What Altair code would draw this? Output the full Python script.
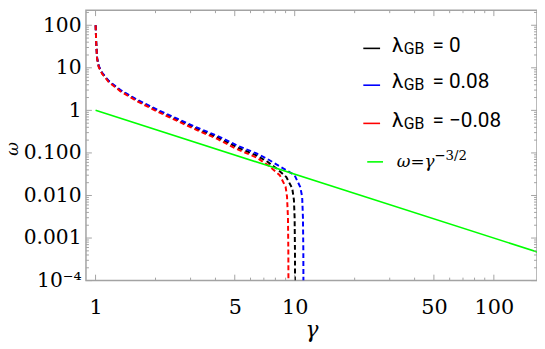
import altair as alt
import pandas as pd

# ---- data ----
gamma_l0 = [1.001, 1.007, 1.018, 1.038, 1.078, 1.164, 1.33, 1.64, 2.06, 2.59, 3.25, 4.09, 5.13, 6.44, 7.3, 8.1, 9.08, 9.72, 9.91, 9.99, 10.03, 10.04]
omega_l0 = [100, 41, 16.7, 10.7, 7.5, 4.8, 2.93, 1.65, 0.97, 0.59, 0.364, 0.232, 0.136, 0.087, 0.062, 0.043, 0.027, 0.0147, 0.0079, 0.003, 0.0005, 0.0001]

gamma_lp = [1.001, 1.007, 1.018, 1.038, 1.078, 1.164, 1.33, 1.64, 2.06, 2.59, 3.25, 4.09, 5.13, 6.44, 7.3, 8.57, 9.98, 10.65, 10.9, 11.0, 11.05, 11.06]
omega_lp = [100, 42, 17.2, 11.0, 7.7, 4.95, 3.03, 1.72, 1.02, 0.63, 0.39, 0.252, 0.15, 0.097, 0.072, 0.046, 0.030, 0.016, 0.0094, 0.003, 0.0005, 0.0001]

gamma_lm = [1.001, 1.007, 1.018, 1.038, 1.078, 1.164, 1.33, 1.64, 2.06, 2.59, 3.25, 4.09, 5.13, 6.44, 7.37, 8.41, 9.0, 9.15, 9.25, 9.29, 9.3]
omega_lm = [100, 40, 16.2, 10.4, 7.3, 4.65, 2.83, 1.58, 0.92, 0.555, 0.34, 0.213, 0.123, 0.078, 0.051, 0.030, 0.016, 0.0094, 0.003, 0.0005, 0.0001]

gamma_power = [1.0, 165.0]
omega_power = [1.0, 0.00047]

series_names = ["l0", "lp", "lm", "power"]
series_colors = ["#000000", "#0000ff", "#ff0000", "#00ff00"]
lambda_labels = ["0", "0.08", "\u22120.08"]

x_major_ticks = [1, 5, 10, 50, 100]
x_minor_ticks = [2, 3, 4, 6, 7, 8, 9, 20, 30, 40, 60, 70, 80, 90]
y_major_ticks = [1e-4, 1e-3, 1e-2, 1e-1, 1, 10, 100]
y_minor_mult = [2, 3, 4, 5, 6, 7, 8, 9]
y_minor_ticks = [m * d for d in [1e-4, 1e-3, 1e-2, 1e-1, 1, 10, 100] for m in y_minor_mult if m * d < 226]

# ---- build tables ----
rows = []
for name, gs, ws in [("l0", gamma_l0, omega_l0), ("lp", gamma_lp, omega_lp),
                     ("lm", gamma_lm, omega_lm), ("power", gamma_power, omega_power)]:
    for i, (g, w) in enumerate(zip(gs, ws)):
        rows.append({"gamma": g, "omega": w, "series": name, "idx": i})
df = pd.DataFrame(rows)

W, H = 457, 274
xscale = alt.Scale(type="log", domain=[0.895, 164.7], nice=False)
yscale = alt.Scale(type="log", domain=[1e-4, 226], nice=False)
color_scale = alt.Scale(domain=series_names, range=series_colors)
SERIF = "DejaVu Serif"
SANS = "Roboto"
FRAME = "#a3a3a3"

xaxis = alt.Axis(values=x_major_ticks, format="d", grid=False, ticks=False,
                 domain=False, labelFont=SERIF, labelFontSize=21, labelColor="black",
                 labelPadding=16, labelFlush=False, labelOverlap=False,
                 title="\u03b3", titleFont=SERIF, titleFontSize=22, titleFontStyle="italic",
                 titleFontWeight="normal", titleColor="black", titleBaseline="alphabetic",
                 titleY=57)
yaxis = alt.Axis(values=y_major_ticks, grid=False, ticks=False, domain=False,
                 labelFont=SERIF, labelFontSize=20.5, labelColor="black", labelPadding=5,
                 labelFlush=False, labelOverlap=False,
                 labelExpr="datum.value >= 1 ? format(datum.value, 'd') : (datum.value < 0.0005 ? '10\u207b\u2074' : format(datum.value, '.3f'))",
                 title="\u03c9", titleFont=SERIF, titleFontSize=17, titleFontStyle="italic",
                 titleFontWeight="normal", titleColor="black", titleAngle=270,
                 titleX=-74, titleY=140, titleBaseline="middle", titleAlign="center")

base = alt.Chart(df)
dashed = base.transform_filter(alt.datum.series != "power").mark_line(
    strokeDash=[5, 3], strokeWidth=2, clip=True
).encode(
    x=alt.X("gamma:Q", scale=xscale, axis=xaxis),
    y=alt.Y("omega:Q", scale=yscale, axis=yaxis),
    color=alt.Color("series:N", scale=color_scale, legend=None),
    order=alt.Order("idx:Q"),
    detail="series:N",
)
green = base.transform_filter(alt.datum.series == "power").mark_line(
    strokeWidth=1.6, clip=True, color="#00ff00"
).encode(
    x=alt.X("gamma:Q", scale=xscale),
    y=alt.Y("omega:Q", scale=yscale),
    order=alt.Order("idx:Q"),
)

layers = [dashed, green]

def xticks(vals, length):
    d = pd.DataFrame({"t": vals})
    bottom = alt.Chart(d).mark_rule(color=FRAME, strokeWidth=1).encode(
        x=alt.X("t:Q", scale=xscale), y=alt.value(H), y2=alt.value(H - length))
    top = alt.Chart(d).mark_rule(color=FRAME, strokeWidth=1).encode(
        x=alt.X("t:Q", scale=xscale), y=alt.value(0), y2=alt.value(length))
    return [bottom, top]

def yticks(vals, length):
    d = pd.DataFrame({"t": vals})
    left = alt.Chart(d).mark_rule(color=FRAME, strokeWidth=1).encode(
        y=alt.Y("t:Q", scale=yscale), x=alt.value(0), x2=alt.value(length))
    right = alt.Chart(d).mark_rule(color=FRAME, strokeWidth=1).encode(
        y=alt.Y("t:Q", scale=yscale), x=alt.value(W), x2=alt.value(W - length))
    return [left, right]

layers += xticks(x_major_ticks, 6) + xticks(x_minor_ticks, 3)
layers += yticks(y_major_ticks, 6) + yticks(y_minor_ticks, 3)

# manual legend
one = pd.DataFrame({"a": [0]})
line_y = [38.7, 76.0, 114.7]
for i, lab in enumerate(lambda_labels):
    ly = line_y[i]
    col = series_colors[i]
    layers.append(alt.Chart(one).mark_rule(color=col, strokeWidth=1.6).encode(
        x=alt.value(281), x2=alt.value(298), y=alt.value(ly)))
    layers.append(alt.Chart(one).mark_text(font=SANS, fontSize=21, align="left",
                                           baseline="alphabetic", color="black").encode(
        x=alt.value(310), y=alt.value(ly + 3.3), text=alt.value("\u03bb")))
    layers.append(alt.Chart(one).mark_text(font=SANS, fontSize=16, align="left",
                                           baseline="alphabetic", color="black").encode(
        x=alt.value(322), y=alt.value(ly + 5.3), text=alt.value("GB")))
    layers.append(alt.Chart(one).mark_text(font=SANS, fontSize=21, align="left",
                                           baseline="alphabetic", color="black").encode(
        x=alt.value(351), y=alt.value(ly + 3.3), text=alt.value("= " + lab)))

ly4 = 153.7
layers.append(alt.Chart(one).mark_rule(color=series_colors[3], strokeWidth=1.6).encode(
    x=alt.value(285), x2=alt.value(301), y=alt.value(ly4)))
layers.append(alt.Chart(one).mark_text(font=SERIF, fontSize=17, fontStyle="italic", align="left",
                                       baseline="alphabetic", color="black").encode(
    x=alt.value(315), y=alt.value(ly4 + 5), text=alt.value("\u03c9=\u03b3")))
layers.append(alt.Chart(one).mark_text(font=SERIF, fontSize=13.5, align="left",
                                       baseline="alphabetic", color="black").encode(
    x=alt.value(353), y=alt.value(ly4 - 1.7), text=alt.value("\u22123/2")))

chart = alt.layer(*layers).properties(
    width=W, height=H,
    autosize=alt.AutoSizeParams(type="none"),
    padding={"left": 79, "top": 0, "right": 0, "bottom": 60},
).configure_view(stroke=FRAME, strokeWidth=1.5)

chart.save("out.html", embed_options={"renderer": "svg", "actions": False})
